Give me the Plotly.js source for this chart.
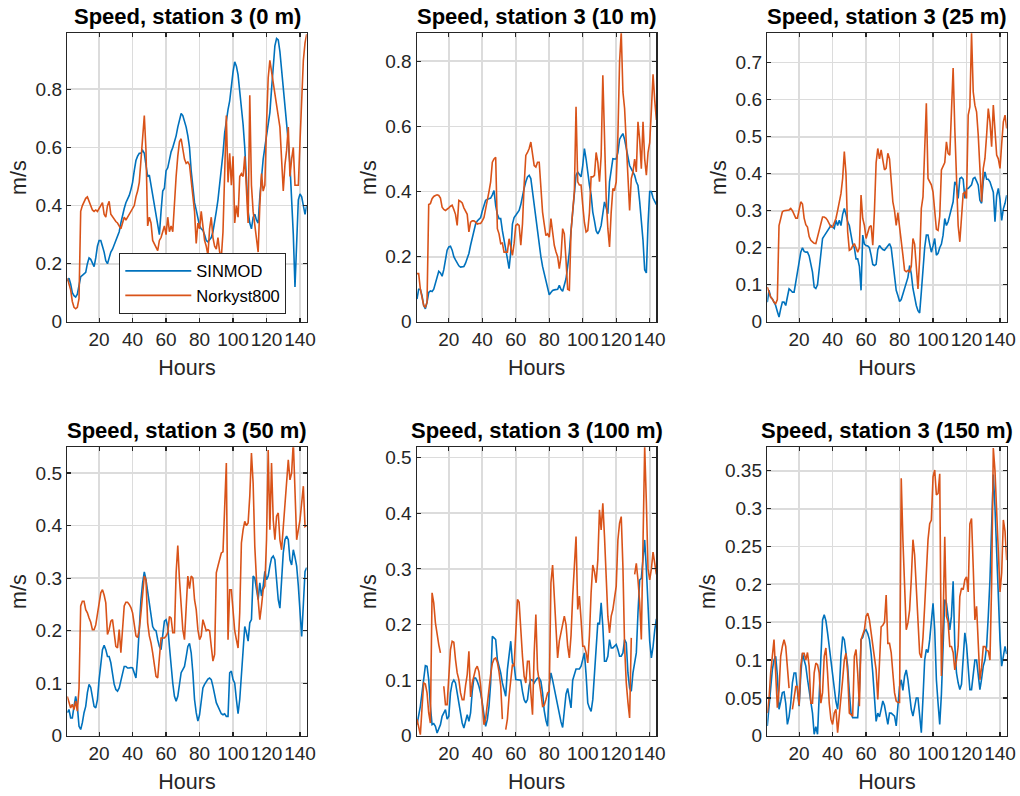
<!DOCTYPE html>
<html><head><meta charset="utf-8">
<script src="https://cdn.plot.ly/plotly-3.0.1.min.js"></script>
<style>html,body{margin:0;padding:0;background:#fff}#chart{width:1020px;height:796px}</style>
</head><body><div id="chart"></div>
<script>
// ---------------- data ----------------
const depthLabels = ['0 m', '10 m', '25 m', '50 m', '100 m', '150 m'];
const seriesNames = ['SINMOD', 'Norkyst800'];
const xTickVals = [20, 40, 60, 80, 100, 120, 140];
const hours = Array.from({length: 144}, (_, i) => i + 1);

const sinmod0m = [0.14,0.15,0.13,0.10,0.09,0.085,0.095,0.125,0.155,0.16,
0.165,0.17,0.20,0.22,0.215,0.20,0.19,0.22,0.26,0.28,
0.28,0.26,0.24,0.21,0.20,0.22,0.24,0.25,0.265,0.275,
0.29,0.31,0.34,0.37,0.39,0.41,0.42,0.435,0.455,0.48,
0.52,0.555,0.57,0.58,0.58,0.59,0.58,0.54,0.50,0.505,
0.47,0.44,0.40,0.36,0.32,0.30,0.38,0.45,0.46,0.52,
0.53,0.56,0.585,0.60,0.62,0.64,0.67,0.70,0.717,0.71,
0.69,0.67,0.64,0.60,0.52,0.45,0.41,0.385,0.36,0.33,
0.32,0.315,0.30,0.28,0.275,0.285,0.29,0.31,0.34,0.38,
0.42,0.47,0.52,0.58,0.65,0.70,0.73,0.76,0.82,0.86,
0.895,0.88,0.85,0.80,0.74,0.68,0.60,0.50,0.38,0.34,
0.32,0.36,0.37,0.35,0.34,0.43,0.50,0.56,0.60,0.64,
0.68,0.72,0.80,0.88,0.95,0.975,0.97,0.93,0.87,0.80,
0.74,0.69,0.62,0.54,0.43,0.30,0.12,0.25,0.42,0.44,
0.43,0.40,0.37,0.40];
const norkyst0m = [0.15,0.13,0.11,0.07,0.05,0.045,0.05,0.08,0.38,0.40,
0.415,0.425,0.43,0.415,0.40,0.385,0.38,0.385,0.38,0.39,
0.40,0.41,0.37,0.36,0.40,0.415,0.37,0.36,0.355,0.345,
0.34,0.33,0.32,0.34,0.36,0.35,0.36,0.37,0.375,0.385,
0.40,0.43,0.45,0.48,0.55,0.62,0.71,0.59,0.33,0.36,
0.34,0.28,0.27,0.26,0.245,0.28,0.29,0.31,0.33,0.30,
0.36,0.31,0.33,0.31,0.42,0.50,0.57,0.62,0.63,0.59,
0.56,0.545,0.55,0.54,0.49,0.44,0.38,0.27,0.34,0.32,
0.38,0.33,0.28,0.26,0.23,0.32,0.36,0.29,0.26,0.25,
0.29,0.24,0.22,0.31,0.52,0.71,0.48,0.58,0.47,0.57,
0.34,0.40,0.36,0.50,0.51,0.50,0.57,0.47,0.34,0.78,
0.47,0.38,0.33,0.29,0.24,0.40,0.51,0.45,0.47,0.68,
0.84,0.90,0.86,0.82,0.79,0.74,0.70,0.67,0.56,0.45,
0.54,0.59,0.67,0.50,0.56,0.60,0.47,0.47,0.47,0.62,
0.79,0.90,0.96,0.99];

const sinmod10m = [0.07,0.10,0.10,0.08,0.05,0.04,0.06,0.09,0.095,0.093,
0.10,0.12,0.14,0.155,0.15,0.14,0.16,0.19,0.22,0.23,
0.232,0.22,0.20,0.19,0.18,0.172,0.168,0.168,0.17,0.18,
0.195,0.21,0.235,0.26,0.286,0.30,0.31,0.315,0.32,0.34,
0.355,0.373,0.376,0.378,0.38,0.39,0.403,0.357,0.33,0.317,
0.317,0.28,0.255,0.22,0.194,0.163,0.214,0.30,0.32,0.327,
0.335,0.342,0.36,0.388,0.41,0.43,0.445,0.45,0.44,0.40,
0.36,0.32,0.28,0.23,0.20,0.17,0.15,0.13,0.11,0.083,
0.09,0.096,0.098,0.098,0.10,0.112,0.10,0.094,0.11,0.132,
0.17,0.214,0.28,0.337,0.40,0.45,0.46,0.45,0.445,0.48,
0.532,0.50,0.45,0.42,0.39,0.337,0.31,0.28,0.27,0.28,
0.296,0.33,0.368,0.35,0.332,0.43,0.47,0.501,0.50,0.50,
0.52,0.56,0.57,0.578,0.56,0.532,0.51,0.48,0.47,0.46,
0.45,0.43,0.419,0.37,0.317,0.25,0.16,0.15,0.30,0.40,
0.40,0.38,0.37,0.36];
const norkyst10m = [0.148,0.148,0.10,0.07,0.05,0.045,0.06,0.36,0.363,0.378,
0.385,0.388,0.39,0.388,0.38,0.352,0.345,0.342,0.345,0.35,
0.355,0.358,0.345,0.33,0.296,0.373,0.37,0.365,0.35,0.34,
0.33,0.276,0.306,0.31,0.31,0.306,0.30,0.302,0.302,0.31,
0.32,0.347,0.37,0.40,0.43,0.49,0.50,0.505,0.286,0.27,
0.24,0.242,0.214,0.214,0.214,0.255,0.234,0.204,0.24,0.296,
0.30,0.296,0.235,0.30,0.42,0.511,0.52,0.532,0.552,0.51,
0.48,0.475,0.49,0.49,0.42,0.337,0.30,0.265,0.27,0.26,
0.317,0.28,0.235,0.215,0.20,0.163,0.20,0.286,0.27,0.19,
0.10,0.097,0.276,0.34,0.40,0.66,0.43,0.42,0.42,0.358,
0.305,0.276,0.28,0.335,0.445,0.445,0.45,0.52,0.49,0.43,
0.51,0.757,0.542,0.38,0.286,0.23,0.337,0.409,0.405,0.43,
0.573,0.798,0.89,0.706,0.655,0.552,0.46,0.342,0.44,0.46,
0.50,0.46,0.614,0.56,0.47,0.614,0.50,0.45,0.52,0.55,
0.65,0.76,0.68,0.62];

const sinmod25m = [0.053,0.085,0.067,0.062,0.053,0.044,0.028,0.013,0.035,0.053,
0.053,0.044,0.067,0.089,0.085,0.08,0.08,0.107,0.14,0.16,
0.188,0.20,0.19,0.188,0.188,0.178,0.16,0.134,0.094,0.09,
0.10,0.14,0.19,0.225,0.232,0.24,0.245,0.256,0.26,0.256,
0.252,0.274,0.26,0.274,0.26,0.29,0.306,0.29,0.27,0.26,
0.23,0.21,0.20,0.17,0.17,0.15,0.085,0.234,0.21,0.206,
0.205,0.20,0.18,0.155,0.152,0.155,0.195,0.206,0.20,0.195,
0.193,0.20,0.205,0.211,0.20,0.16,0.116,0.085,0.071,0.055,
0.06,0.075,0.085,0.10,0.12,0.152,0.13,0.09,0.065,0.044,
0.03,0.024,0.08,0.15,0.20,0.234,0.234,0.21,0.188,0.205,
0.225,0.18,0.185,0.20,0.21,0.234,0.279,0.26,0.27,0.288,
0.306,0.324,0.378,0.37,0.333,0.387,0.39,0.385,0.333,0.36,
0.36,0.365,0.37,0.387,0.39,0.38,0.369,0.328,0.32,0.38,
0.405,0.385,0.385,0.378,0.36,0.35,0.27,0.34,0.36,0.33,
0.274,0.305,0.32,0.342];
const norkyst25m = [0.094,0.08,0.067,0.062,0.053,0.049,0.06,0.26,0.283,0.297,
0.30,0.301,0.301,0.302,0.306,0.30,0.29,0.28,0.28,0.30,
0.324,0.318,0.28,0.262,0.256,0.23,0.22,0.216,0.212,0.211,
0.23,0.25,0.27,0.283,0.283,0.28,0.274,0.265,0.256,0.256,
0.27,0.279,0.30,0.32,0.346,0.387,0.46,0.40,0.243,0.193,
0.196,0.205,0.211,0.20,0.188,0.20,0.342,0.279,0.26,0.225,
0.24,0.256,0.26,0.207,0.30,0.43,0.468,0.44,0.464,0.43,
0.41,0.415,0.455,0.44,0.369,0.324,0.30,0.26,0.295,0.26,
0.225,0.18,0.139,0.135,0.139,0.134,0.15,0.225,0.21,0.14,
0.089,0.17,0.306,0.337,0.45,0.59,0.387,0.38,0.37,0.35,
0.30,0.25,0.247,0.285,0.41,0.423,0.43,0.486,0.455,0.45,
0.576,0.685,0.522,0.378,0.26,0.216,0.28,0.346,0.35,0.333,
0.558,0.58,0.78,0.621,0.585,0.567,0.504,0.396,0.324,0.414,
0.441,0.504,0.576,0.54,0.473,0.585,0.50,0.45,0.44,0.414,
0.48,0.54,0.558,0.522];

const sinmod50m = [0.044,0.05,0.034,0.034,0.056,0.075,0.056,0.018,0.012,0.025,
0.044,0.056,0.082,0.098,0.092,0.075,0.056,0.053,0.069,0.107,
0.132,0.164,0.172,0.164,0.151,0.151,0.139,0.12,0.098,0.088,
0.085,0.091,0.104,0.12,0.132,0.132,0.129,0.129,0.13,0.129,
0.12,0.11,0.15,0.208,0.259,0.291,0.312,0.297,0.272,0.247,
0.228,0.208,0.202,0.20,0.183,0.17,0.164,0.19,0.218,0.221,
0.208,0.17,0.132,0.10,0.075,0.066,0.075,0.10,0.12,0.126,
0.132,0.15,0.17,0.176,0.158,0.12,0.069,0.044,0.028,0.04,
0.069,0.091,0.098,0.104,0.108,0.11,0.107,0.094,0.075,0.063,
0.056,0.05,0.042,0.04,0.042,0.037,0.037,0.12,0.123,0.107,
0.10,0.069,0.042,0.069,0.12,0.164,0.208,0.196,0.18,0.215,
0.221,0.304,0.30,0.279,0.259,0.291,0.266,0.285,0.313,0.297,
0.304,0.323,0.338,0.342,0.335,0.297,0.259,0.243,0.297,0.348,
0.373,0.38,0.373,0.335,0.325,0.354,0.34,0.323,0.285,0.234,
0.189,0.25,0.313,0.32];
const norkyst50m = [0.075,0.063,0.053,0.06,0.05,0.066,0.047,0.09,0.247,0.256,
0.256,0.24,0.234,0.224,0.216,0.202,0.202,0.211,0.234,0.259,
0.272,0.278,0.268,0.253,0.193,0.202,0.218,0.221,0.196,0.17,
0.167,0.202,0.158,0.208,0.247,0.254,0.254,0.25,0.244,0.234,
0.215,0.19,0.187,0.202,0.234,0.272,0.304,0.297,0.215,0.19,
0.177,0.158,0.132,0.113,0.11,0.145,0.186,0.186,0.186,0.19,
0.196,0.227,0.224,0.196,0.196,0.31,0.362,0.297,0.253,0.202,
0.183,0.234,0.304,0.28,0.304,0.30,0.259,0.24,0.202,0.183,
0.19,0.221,0.21,0.20,0.202,0.20,0.17,0.142,0.155,0.31,
0.323,0.335,0.348,0.35,0.437,0.519,0.183,0.278,0.278,0.24,
0.20,0.183,0.167,0.234,0.367,0.392,0.408,0.40,0.405,0.456,
0.538,0.481,0.36,0.297,0.266,0.221,0.247,0.278,0.285,0.373,
0.544,0.392,0.519,0.411,0.373,0.418,0.424,0.373,0.354,0.398,
0.437,0.487,0.525,0.487,0.50,0.56,0.481,0.373,0.392,0.411,
0.443,0.475,0.398,0.40];

const sinmod100m = [0.02,0.035,0.053,0.077,0.101,0.126,0.125,0.101,0.053,0.02,
0.022,0.017,0.005,0.012,0.02,0.035,0.041,0.047,0.03,0.035,
0.077,0.095,0.10,0.095,0.077,0.059,0.041,0.023,0.014,0.026,
0.038,0.026,0.041,0.08,0.104,0.104,0.098,0.089,0.077,0.059,
0.035,0.017,0.029,0.053,0.095,0.179,0.176,0.173,0.137,0.125,
0.113,0.095,0.083,0.071,0.119,0.149,0.17,0.131,0.128,0.101,
0.101,0.101,0.10,0.08,0.065,0.059,0.065,0.09,0.101,0.10,
0.095,0.10,0.104,0.104,0.098,0.077,0.045,0.028,0.017,0.09,
0.113,0.10,0.085,0.065,0.05,0.038,0.025,0.015,0.04,0.075,
0.085,0.065,0.05,0.10,0.113,0.12,0.12,0.12,0.125,0.137,
0.149,0.11,0.059,0.05,0.044,0.065,0.113,0.167,0.203,0.20,
0.239,0.197,0.134,0.134,0.143,0.173,0.158,0.158,0.161,0.164,
0.155,0.143,0.143,0.149,0.173,0.167,0.113,0.086,0.08,0.113,
0.131,0.149,0.221,0.28,0.283,0.316,0.352,0.30,0.23,0.17,
0.14,0.16,0.19,0.21];
const norkyst100m = [0.03,0.017,0.002,0.05,0.095,0.093,0.077,0.041,0.023,0.257,
0.239,0.203,0.179,0.164,0.149,null,0.089,0.056,0.056,0.101,
0.155,0.17,0.168,0.137,0.113,0.101,0.077,0.065,0.065,0.09,
0.11,0.152,0.07,0.095,0.11,0.12,0.125,0.115,0.09,0.05,
0.02,0.03,0.06,0.08,0.11,0.13,0.138,0.14,0.132,0.115,
0.09,0.03,null,0.011,0.03,0.071,0.101,0.128,0.125,0.197,
0.245,0.24,0.185,0.143,0.107,0.095,0.134,0.134,0.077,0.038,
0.149,0.218,0.119,0.10,0.077,0.053,0.055,0.065,0.077,0.08,
0.275,0.307,0.257,0.185,0.14,0.17,0.185,0.206,0.215,0.20,
0.161,0.14,0.18,0.251,0.31,0.358,0.227,0.251,0.209,0.161,
0.161,0.15,0.131,0.18,0.257,0.307,0.295,0.275,0.316,0.406,
0.37,0.418,0.358,0.269,0.215,0.185,0.215,0.227,0.251,0.269,
0.352,0.382,0.394,0.304,0.161,0.095,0.06,0.032,0.176,null,
0.29,0.31,0.28,0.24,0.173,0.35,0.52,0.42,0.30,0.28,
0.30,0.33,0.31,0.29];

const sinmod150m = [0.013,0.039,0.065,0.087,0.10,0.105,0.08,0.035,0.045,0.057,
0.058,0.043,0.015,0.025,0.043,0.07,0.083,0.083,0.06,0.039,
0.08,0.109,0.10,0.092,0.075,0.061,0.045,0.03,0.002,0.012,
0.002,0.057,0.118,0.153,0.16,0.152,0.136,0.118,0.10,0.083,
0.057,0.045,0.035,0.06,0.105,0.131,0.127,0.11,0.092,0.057,
0.03,0.024,0.024,0.024,0.024,0.06,0.127,0.13,0.138,0.14,
0.135,0.127,0.109,0.083,0.048,0.019,0.03,0.025,0.035,0.046,
0.04,0.025,0.015,0.03,0.03,0.028,0.026,0.013,0.035,0.065,
0.074,0.06,0.079,0.087,0.074,0.052,0.035,0.026,0.04,0.05,
0.05,0.026,0.004,0.05,0.10,0.114,0.11,0.127,0.149,0.175,
0.14,0.074,0.043,0.015,0.055,0.127,0.18,0.175,0.153,0.14,
0.158,0.204,0.12,0.083,0.07,0.061,0.068,0.105,0.136,0.12,
0.083,0.061,0.061,0.083,0.10,0.10,0.083,0.061,0.075,0.092,
0.10,0.118,0.158,0.206,0.276,0.345,0.302,0.237,0.18,0.127,
0.092,0.105,0.118,0.108];
const norkyst150m = [0.03,0.048,0.083,0.109,0.127,0.083,0.037,0.06,0.105,0.118,
0.127,0.118,0.092,0.063,null,0.035,0.048,0.065,0.065,0.04,
0.092,0.109,0.109,0.10,0.11,0.092,0.043,0.043,0.083,0.096,
0.094,0.083,0.043,0.057,0.105,0.116,0.083,0.043,0.022,0.015,
0.03,0.035,0.004,0.025,0.048,0.074,0.10,0.109,0.083,0.03,
0.028,0.026,0.105,0.114,0.083,0.039,0.127,0.135,0.14,0.158,
0.162,0.153,0.136,0.118,0.105,0.087,0.048,0.105,0.144,0.146,
0.15,0.186,0.122,0.122,0.11,0.083,0.057,0.046,0.044,0.044,
0.34,0.259,0.193,0.14,0.149,0.166,0.206,0.259,0.239,0.197,
0.144,0.109,0.103,0.13,0.171,0.215,0.259,0.28,0.285,0.342,
0.351,0.318,0.32,0.346,0.079,0.15,0.263,0.158,0.15,0.118,
0.118,0.11,0.087,0.10,0.118,0.184,0.195,0.193,0.206,0.21,
0.19,0.28,0.287,0.223,0.153,0.171,0.12,0.074,0.09,0.118,
0.118,0.113,0.112,0.10,0.20,0.38,0.35,0.30,0.24,0.19,
0.215,0.285,0.27,0.232];

const sinmodSeries = [sinmod0m, sinmod10m, sinmod25m, sinmod50m, sinmod100m, sinmod150m];
const norkystSeries = [norkyst0m, norkyst10m, norkyst25m, norkyst50m, norkyst100m, norkyst150m];

// ---------------- layout / styling ----------------
const W = 1020, H = 796;
const colLeft = [67.3, 417, 767.3], plotW = 239.4;
const rowTop = [33.3, 447.3], plotH = 288.5;
const yMax = [0.993, 0.886, 0.779, 0.549, 0.5185, 0.381];
const yStep = [0.2, 0.2, 0.1, 0.1, 0.1, 0.05];
const colors = ['#0072BD', '#D95319'];
const FONT = 'Liberation Sans, Arial, Helvetica, sans-serif';
const txt = '#262626';

const traces = [];
const layout = {
  width: W, height: H,
  margin: {l: 0, r: 0, t: 0, b: 0},
  paper_bgcolor: '#fff', plot_bgcolor: '#fff',
  font: {family: FONT, color: txt},
  showlegend: true,
  legend: {
    x: 119.3 / W, y: 1 - 252.7 / H, xanchor: 'left', yanchor: 'top',
    bgcolor: '#fff', bordercolor: txt, borderwidth: 1,
    font: {family: FONT, size: 16.5, color: '#000'},
    itemwidth: 66, tracegroupgap: 0
  },
  annotations: []
};

for (let p = 0; p < 6; p++) {
  const r = Math.floor(p / 3), c = p % 3;
  const ax = p === 0 ? '' : String(p + 1);
  const x0 = colLeft[c] / W, x1 = (colLeft[c] + plotW) / W;
  const y1 = 1 - rowTop[r] / H, y0 = 1 - (rowTop[r] + plotH) / H;
  const common = {
    ticks: 'inside', ticklen: 4, tickwidth: 1.2, tickcolor: txt,
    showline: true, linecolor: txt, linewidth: 1.5, mirror: 'ticks',
    showgrid: true, gridcolor: '#dcdcdc', gridwidth: 1.8, zeroline: false,
    tickfont: {family: FONT, size: 19, color: txt}
  };
  layout['xaxis' + ax] = Object.assign({}, common, {
    domain: [x0, x1], range: [1, 144], tickvals: xTickVals, tickangle: 0,
    anchor: 'y' + ax,
    title: {text: 'Hours', font: {family: FONT, size: 21.5, color: txt}, standoff: 11}
  });
  layout['yaxis' + ax] = Object.assign({}, common, {
    domain: [y0, y1], range: [0, yMax[p]], dtick: yStep[p], tick0: 0,
    anchor: 'x' + ax,
    title: {text: 'm/s', font: {family: FONT, size: 21.5, color: txt}, standoff: 3}
  });
  layout.annotations.push({
    xref: 'paper', yref: 'paper', x: (x0 + x1) / 2, y: y1,
    xanchor: 'center', yanchor: 'bottom', yshift: 2, showarrow: false,
    text: '<b>Speed, station 3 (' + depthLabels[p] + ')</b>',
    font: {family: FONT, size: 22, color: '#000'}
  });
  [sinmodSeries[p], norkystSeries[p]].forEach((vals, k) => {
    traces.push({
      type: 'scatter', mode: 'lines', x: hours, y: vals,
      name: seriesNames[k], legendgroup: seriesNames[k], showlegend: p === 0,
      connectgaps: false,
      line: {color: colors[k], width: 1.6},
      xaxis: 'x' + ax, yaxis: 'y' + ax, hoverinfo: 'skip'
    });
  });
}

Plotly.newPlot('chart', traces, layout, {staticPlot: true, displayModeBar: false});
</script>
</body></html>
